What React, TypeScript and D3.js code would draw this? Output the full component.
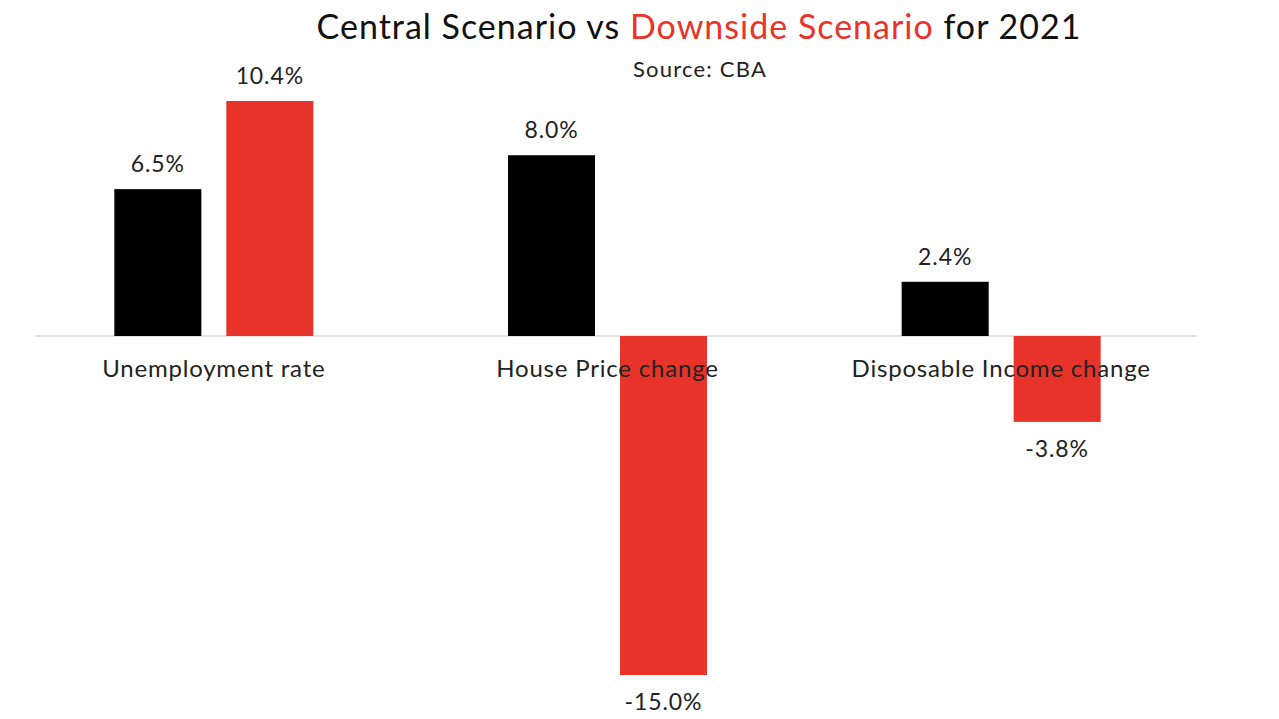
import React from "react";
import * as d3 from "d3";

const categories = ["Unemployment rate", "House Price change", "Disposable Income change"];
const seriesNames = ["Central", "Downside"];
const centralValues = [6.5, 8.0, 2.4];
const downsideValues = [10.4, -15.0, -3.8];
const colors = ["#000000", "#E8332A"];

const W = 1279;
const H = 719;

const fmt = (v: number) => d3.format(".1f")(v).replace("\u2212", "-") + "%";

export default function App() {
  const x = d3.scaleBand<string>().domain(categories).range([17, 1198]).padding(0);
  const inner = d3.scaleBand<string>().domain(seriesNames).range([0, 199]).paddingInner(0.223).paddingOuter(0);
  const y = d3.scaleLinear().domain([-15, 10.4]).range([675, 101]);
  const font = "Lato, 'Noto Sans', sans-serif";
  const data = categories.map((c, i) => ({ c, vals: [centralValues[i], downsideValues[i]] }));
  const y0 = y(0);
  return (
    <svg width={W} height={H} style={{ position: "absolute", left: 0, top: 0, background: "#fff" }} fontFamily={font}>
      <rect width={W} height={H} fill="#fff" />
      <line x1={35} x2={1197} y1={y0} y2={y0} stroke="#dcdcdc" strokeWidth={1.5} />
      {data.map((d) => {
        const gx = (x(d.c) as number) + x.bandwidth() / 2 - 99.5;
        return (
          <g key={d.c}>
            {d.vals.map((v, j) => {
              const bx = gx + (inner(seriesNames[j]) as number);
              const top = Math.min(y(v), y0);
              const h = Math.abs(y(v) - y0);
              return (
                <g key={j}>
                  <rect x={bx} y={top} width={inner.bandwidth()} height={h} fill={colors[j]} />
                  <text
                    x={bx + inner.bandwidth() / 2}
                    y={v >= 0 ? y(v) - 17 : y(v) + 35}
                    textAnchor="middle"
                    fontSize={23}
                    letterSpacing={0.9}
                    fill="#222"
                  >
                    {fmt(v)}
                  </text>
                </g>
              );
            })}
          </g>
        );
      })}
      {categories.map((c) => (
        <text key={c} x={(x(c) as number) + x.bandwidth() / 2} y={y0 + 41} textAnchor="middle" fontSize={24} letterSpacing={0.8} fill="#222">
          {c}
        </text>
      ))}
      <text x={699} y={39} textAnchor="middle" fontSize={34} letterSpacing={1} fill="#111">
        <tspan>Central Scenario vs </tspan>
        <tspan fill={colors[1]}>Downside Scenario</tspan>
        <tspan> for 2021</tspan>
      </text>
      <text x={700} y={77} textAnchor="middle" fontSize={22} letterSpacing={1.2} fill="#222">
        Source: CBA
      </text>
    </svg>
  );
}
